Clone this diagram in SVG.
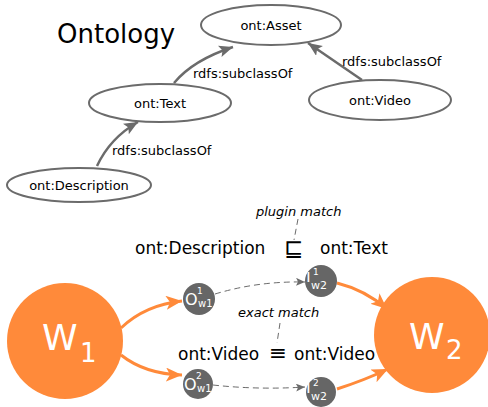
<svg xmlns="http://www.w3.org/2000/svg" width="488" height="407" viewBox="0 0 488 407">
<style>
text{font-family:"DejaVu Sans","Liberation Sans",sans-serif;}
.ell{fill:#fff;stroke:#6b6b6b;stroke-width:2;}
.lab{font-size:13px;fill:#000;}
.big{font-size:17px;fill:#000;}
.it{font-size:13px;font-style:italic;fill:#000;}
.edge{fill:none;stroke:#6b6b6b;stroke-width:2.5;}
.dash{fill:none;stroke:#6b6b6b;stroke-width:1;stroke-dasharray:6,4;}
.orange{fill:none;stroke:#ff8a3a;stroke-width:3;}
.sm{fill:#666;}
.wt{fill:#fff;}
</style>
<defs>
<marker id="ga" markerUnits="userSpaceOnUse" markerWidth="16" markerHeight="14" refX="14" refY="6" orient="auto"><path d="M0,0 L14,6 L0,12 L3,6 Z" fill="#6b6b6b"/></marker>
<marker id="gs" markerUnits="userSpaceOnUse" markerWidth="10" markerHeight="8" refX="9" refY="4" orient="auto"><path d="M0,0 L9,4 L0,8 L2,4 Z" fill="#6b6b6b"/></marker>
<marker id="oa" markerUnits="userSpaceOnUse" markerWidth="18" markerHeight="16" refX="16" refY="7" orient="auto"><path d="M0,0 L16,7 L0,14 L4,7 Z" fill="#ff8a3a"/></marker>
</defs>
<text x="57" y="43" style="font-size:26px" fill="#000">Ontology</text>
<g id="connectors">
<path class="edge" d="M97,166 Q110,138 138,122" marker-end="url(#ga)"/>
<path class="edge" d="M174,83 Q193,60 233,47" marker-end="url(#ga)"/>
<path class="edge" d="M362,80 L308,43" marker-end="url(#ga)"/>
<text class="lab" x="112" y="155">rdfs:subclassOf</text>
<text class="lab" x="193" y="78">rdfs:subclassOf</text>
<text class="lab" x="342" y="66">rdfs:subclassOf</text>
<path class="dash" d="M215,294 Q258,281 305,282" marker-end="url(#gs)"/>
<path class="dash" d="M213,385 Q258,390 305,387" marker-end="url(#gs)"/>
<path class="orange" d="M121,328 Q145,305 182,301" marker-end="url(#oa)"/>
<path class="orange" d="M121,355 Q145,374 182,375" marker-end="url(#oa)"/>
<path class="orange" d="M337,283 Q365,290 387,309" marker-end="url(#oa)"/>
<path class="orange" d="M337,389 Q365,380 388,369" marker-end="url(#oa)"/>
<path class="dash" d="M298,219 L294,240" stroke-dasharray="4,3"/>
<path class="dash" d="M280,323 L277,343" stroke-dasharray="4,3"/>
</g>
<g id="asset"><ellipse class="ell" cx="271" cy="25" rx="70" ry="20"/><text class="lab" x="271" y="30" text-anchor="middle">ont:Asset</text></g>
<g id="text"><ellipse class="ell" cx="160" cy="103" rx="71" ry="19"/><text class="lab" x="160" y="108" text-anchor="middle">ont:Text</text></g>
<g id="video"><ellipse class="ell" cx="380" cy="100" rx="71" ry="20"/><text class="lab" x="380" y="105" text-anchor="middle">ont:Video</text></g>
<g id="description"><ellipse class="ell" cx="79" cy="185" rx="72" ry="17"/><text class="lab" x="79" y="190" text-anchor="middle">ont:Description</text></g>
<g id="plugin">
<text class="it" x="256" y="216">plugin match</text>
<text class="big" x="135" y="254">ont:Description</text>
<text class="big" x="294" y="256" text-anchor="middle" style="font-size:23px">⊑</text>
<text class="big" x="320" y="254">ont:Text</text>
</g>
<g id="exact">
<text class="it" x="238" y="317">exact match</text>
<text class="big" x="178" y="360">ont:Video</text>
<text class="big" x="269" y="360" style="font-size:21px" textLength="18" lengthAdjust="spacingAndGlyphs">≡</text>
<text class="big" x="294" y="360">ont:Video</text>
</g>
<g id="w1"><circle cx="65" cy="341" r="58" fill="#ff8a3a"/><text class="wt" x="42" y="350" style="font-size:36px">W</text><text class="wt" x="80" y="362" style="font-size:26px">1</text></g>
<g id="w2"><circle cx="432" cy="335" r="58" fill="#ff8a3a"/><text class="wt" x="409" y="349" style="font-size:36px">W</text><text class="wt" x="446" y="359" style="font-size:26px">2</text></g>
<g id="o1"><circle class="sm" cx="199" cy="299" r="16"/><text class="wt" x="185" y="305" style="font-size:16px">O</text><text class="wt" x="197" y="294" style="font-size:9px">1</text><text class="wt" x="198" y="307" style="font-size:10px">w1</text></g>
<g id="o2"><circle class="sm" cx="198" cy="384" r="15"/><text class="wt" x="184" y="390" style="font-size:16px">O</text><text class="wt" x="196" y="379" style="font-size:9px">2</text><text class="wt" x="197" y="392" style="font-size:10px">w1</text></g>
<g id="i1"><circle class="sm" cx="321" cy="281" r="16"/><text class="wt" x="306" y="282" style="font-size:17px">i</text><text class="wt" x="313" y="275" style="font-size:9px">1</text><text class="wt" x="311" y="289" style="font-size:11px">w2</text></g>
<g id="i2"><circle class="sm" cx="321" cy="392" r="15"/><text class="wt" x="306" y="393" style="font-size:17px">i</text><text class="wt" x="313" y="386" style="font-size:9px">2</text><text class="wt" x="311" y="400" style="font-size:11px">w2</text></g>
</svg>
